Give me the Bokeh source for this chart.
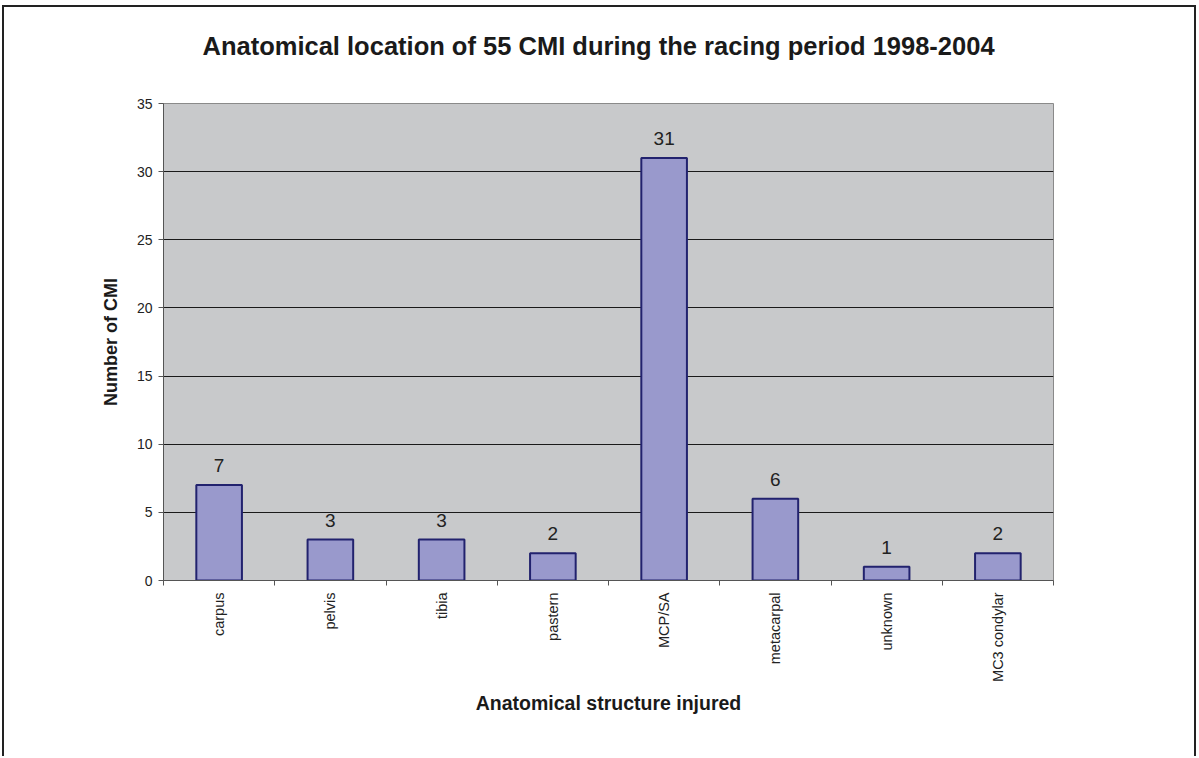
import math
from bokeh.plotting import figure
from bokeh.models import Range1d, FixedTicker, ColumnDataSource, Title
from bokeh.core.properties import value
from bokeh.embed import file_html
from bokeh.resources import INLINE

categories = ["carpus", "pelvis", "tibia", "pastern", "MCP/SA", "metacarpal", "unknown", "MC3 condylar"]
counts = [7, 3, 3, 2, 31, 6, 1, 2]
y_ticks = [0, 5, 10, 15, 20, 25, 30, 35]
title_text = "Anatomical location of 55 CMI during the racing period 1998-2004"

FONT = "Liberation Sans"
n = len(categories)
xs = list(range(n))
src = ColumnDataSource(dict(x=xs, top=counts, label=[str(c) for c in counts]))

W, H = 1197, 756
p = figure(width=W, height=H, output_backend="svg", toolbar_location=None,
           x_range=Range1d(-0.5, n - 0.5), y_range=Range1d(0, 35),
           min_border_left=163, min_border_right=W - 1053, min_border_top=103,
           min_border_bottom=H - 580)

p.title = Title(text=title_text + "\n ", align="left", offset=39, vertical_align="top",
                standoff=28, text_font=FONT, text_font_size="25.5px",
                text_font_style="bold", text_color="#1a1a1a")

# thin frame around the whole chart (as in the scanned original)
p.border_fill_color = None
p.styles = {"background": (
    "linear-gradient(#222,#222) 3px 5px / 1192px 2px no-repeat, "
    "linear-gradient(#222,#222) 2px 5px / 2px 800px no-repeat, "
    "linear-gradient(#222,#222) 1194px 5px / 2px 800px no-repeat, white")}

p.background_fill_color = "#c8c9cb"
p.outline_line_color = "#8a8a8a"
p.outline_line_width = 1

p.vbar(x="x", top="top", bottom=0, width=0.41, source=src,
       fill_color="#9999cc", line_color="#22226e", line_width=2)
p.text(x="x", y="top", text="label", source=src, y_offset=-13,
       text_align="center", text_baseline="bottom",
       text_font=value(FONT), text_font_size="19px", text_color="#222222")

# y axis
p.yaxis.ticker = FixedTicker(ticks=y_ticks)
p.yaxis.axis_label = "Number of CMI"
p.yaxis.axis_label_text_font = FONT
p.yaxis.axis_label_text_font_size = "18px"
p.yaxis.axis_label_text_font_style = "bold"
p.yaxis.axis_label_text_color = "#1a1a1a"
p.yaxis.axis_label_standoff = 13
p.yaxis.major_label_text_font = FONT
p.yaxis.major_label_text_font_size = "14px"
p.yaxis.major_label_text_color = "#222222"
p.yaxis.major_tick_out = 5
p.yaxis.major_tick_in = 0
p.yaxis.major_tick_line_color = "#555555"
p.yaxis.minor_tick_line_color = None
p.yaxis.axis_line_color = "#555555"
p.yaxis.major_label_standoff = 6

# x axis: labels at category centres, tick marks at category boundaries
boundaries = [i - 0.5 for i in range(n + 1)]
p.xaxis.ticker = FixedTicker(ticks=xs, minor_ticks=boundaries)
p.xaxis.major_label_overrides = {i: c for i, c in zip(xs, categories)}
p.xaxis.major_label_orientation = math.pi / 2
p.xaxis.major_tick_line_color = None
p.xaxis.major_tick_out = 0
p.xaxis.major_tick_in = 0
p.xaxis.minor_tick_out = 5
p.xaxis.minor_tick_in = 0
p.xaxis.minor_tick_line_color = "#555555"
p.xaxis.axis_line_color = "#555555"
p.xaxis.major_label_standoff = 7
p.xaxis.major_label_text_font = FONT
p.xaxis.major_label_text_font_size = "14.5px"
p.xaxis.major_label_text_color = "#222222"
p.xaxis.axis_label = "Anatomical structure injured"
p.xaxis.axis_label_text_font = FONT
p.xaxis.axis_label_text_font_size = "19.5px"
p.xaxis.axis_label_text_font_style = "bold"
p.xaxis.axis_label_text_color = "#1a1a1a"
p.xaxis.axis_label_standoff = 7

p.xgrid.visible = False
p.ygrid.ticker = FixedTicker(ticks=[5, 10, 15, 20, 25, 30])
p.ygrid.grid_line_color = "#1a1a1a"
p.ygrid.grid_line_width = 1

open("out.html", "w").write(file_html(p, INLINE))
